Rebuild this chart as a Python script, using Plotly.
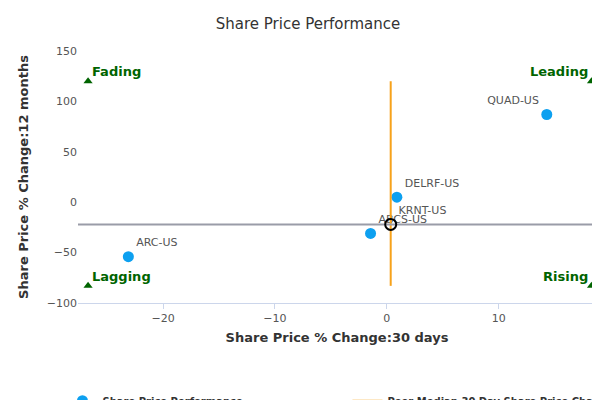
import plotly.graph_objects as go

names = ["QUAD-US", "DELRF-US", "ABCS-US", "ARC-US"]
x30 = [14.3, 0.9, -1.45, -23.1]
y12 = [87, 5, -31, -54]
subject_name = "KRNT-US"
subject_x = [0.35]
subject_y = [-22]
median_30 = 0.35
median_12 = -22
xrange_ = [-27.6, 18.7]
yrange_ = [-100, 150]
quad_labels = ["Fading", "Leading", "Lagging", "Rising"]
quad_x = [-26.7, 18.3, -26.7, 18.3]
quad_y = [120, 120, -83, -83]

fig = go.Figure()
fig.add_trace(go.Scatter(x=x30, y=y12, mode="markers+text", text=names,
    textposition=["top left", "top right", "top right", "top right"],
    textfont=dict(size=11, color="#555"), cliponaxis=False,
    marker=dict(color="#0da0f0", size=11), name="<b>Share Price Performance</b>"))
fig.add_trace(go.Scatter(x=[median_30, median_30], y=[-83, 120], mode="lines",
    line=dict(color="#f7a21b", width=2),
    name="<b>Peer Median 30 Day Share Price Change %</b>"))
fig.add_trace(go.Scatter(x=xrange_, y=[median_12, median_12], mode="lines",
    line=dict(color="#9a9ca8", width=2), name="<b>Peer Median 12 Month Share Price Change %</b>"))
fig.add_trace(go.Scatter(x=subject_x, y=subject_y, mode="markers+text", text=[subject_name],
    textposition="top right", textfont=dict(size=11, color="#555"),
    marker=dict(color="rgba(0,0,0,0)", size=11, line=dict(color="black", width=2)),
    showlegend=False))
fig.add_trace(go.Scatter(x=quad_x, y=quad_y, mode="markers", showlegend=False, cliponaxis=False,
    marker=dict(symbol="triangle-up", color="#006400", size=8)))
for i, t in enumerate(quad_labels):
    left = quad_x[i] < 0
    fig.add_annotation(x=quad_x[i], y=quad_y[i], text="<b>"+t+"</b>", showarrow=False,
        xanchor="left" if left else "right", yanchor="bottom", xshift=2 if left else -2,
        yshift=0, font=dict(color="#006400", size=13))

fig.update_layout(
    width=600, height=400, plot_bgcolor="white", paper_bgcolor="white",
    margin=dict(l=70, r=12, t=43, b=105, autoexpand=False),
    font=dict(family="DejaVu Sans", color="#333"),
    title=dict(text="Share Price Performance", x=0.5, y=0.975, font=dict(size=15, color="#333")),
    xaxis=dict(range=xrange_, tickvals=[-20, -10, 0, 10], showgrid=False, zeroline=False,
        showline=True, linecolor="#ccd6eb", ticks="outside", tickcolor="#ccd6eb",
        title=dict(text="<b>Share Price % Change:30 days</b>", font=dict(size=13), standoff=8),
        tickfont=dict(size=11, color="#555")),
    yaxis=dict(range=yrange_, tickvals=[-100, -50, 0, 50, 100, 150], showgrid=False, zeroline=False,
        title=dict(text="<b>Share Price % Change:12 months</b>", font=dict(size=13)),
        tickfont=dict(size=11, color="#555")),
    legend=dict(orientation="h", x=-0.03, y=-0.33, yanchor="top", font=dict(size=10, color="#333"),
        traceorder="normal", entrywidth=240, tracegroupgap=0),
)
fig.add_annotation(text="www.capitalcube.com", xref="paper", yref="paper", x=1.0, y=-0.45,
    xanchor="right", yanchor="top", showarrow=False, font=dict(size=9, color="#888"))
fig.write_html("out.html")
